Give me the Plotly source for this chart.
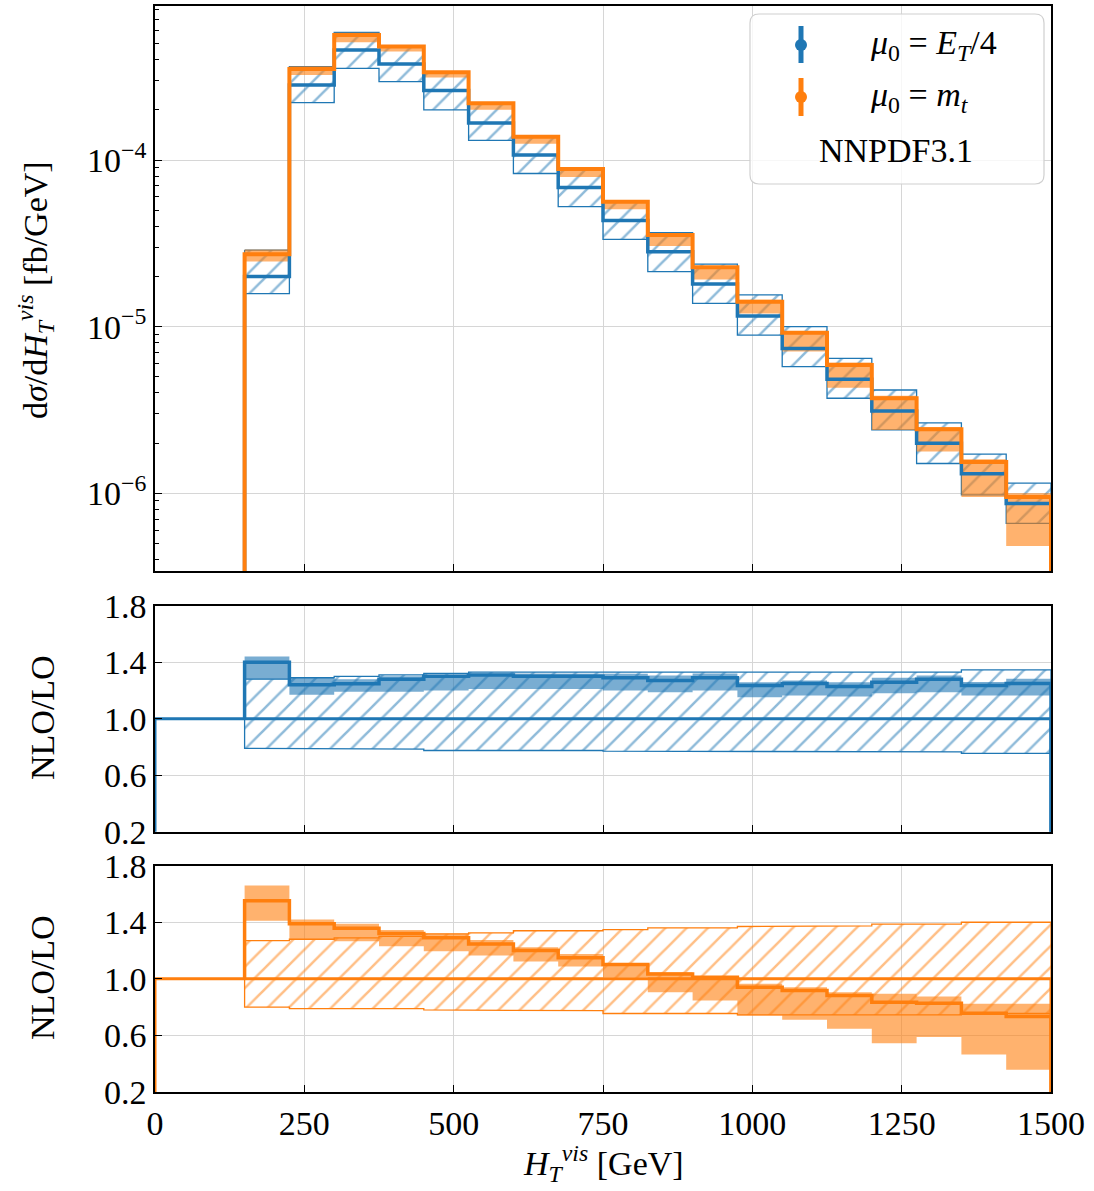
import plotly.graph_objects as go

# ---------------- data ----------------
edges = [150, 225, 300, 375, 450, 525, 600, 675, 750, 825, 900, 975,
         1050, 1125, 1200, 1275, 1350, 1425, 1500]

# top panel: mu0 = E_T/4 (blue) central + hatched band
blue_c = [2.0e-5, 2.82e-4, 4.57e-4, 3.77e-4, 2.61e-4, 1.67e-4, 1.07e-4, 6.83e-5, 4.33e-5,
          2.82e-5, 1.80e-5, 1.16e-5, 7.4e-6, 4.83e-6, 3.12e-6, 2.0e-6, 1.31e-6, 8.7e-7]
blue_hi = [2.88e-5, 3.63e-4, 5.83e-4, 4.85e-4, 3.38e-4, 2.2e-4, 1.39e-4, 8.9e-5, 5.65e-5,
           3.66e-5, 2.37e-5, 1.55e-5, 1.0e-5, 6.45e-6, 4.17e-6, 2.65e-6, 1.72e-6, 1.15e-6]
blue_lo = [1.58e-5, 2.21e-4, 3.55e-4, 2.95e-4, 2.0e-4, 1.31e-4, 8.3e-5, 5.25e-5, 3.34e-5,
           2.14e-5, 1.38e-5, 8.9e-6, 5.75e-6, 3.72e-6, 2.4e-6, 1.51e-6, 9.8e-7, 6.6e-7]

# top panel: mu0 = m_t (orange) central + filled band
orange_c = [2.72e-5, 3.51e-4, 5.62e-4, 4.79e-4, 3.36e-4, 2.19e-4, 1.38e-4, 8.83e-5, 5.62e-5,
            3.55e-5, 2.27e-5, 1.41e-5, 9.2e-6, 5.89e-6, 3.72e-6, 2.42e-6, 1.54e-6, 9.5e-7]
orange_hi = [2.9e-5, 3.65e-4, 5.8e-4, 4.9e-4, 3.42e-4, 2.22e-4, 1.40e-4, 8.95e-5, 5.7e-5,
             3.6e-5, 2.3e-5, 1.45e-5, 9.4e-6, 6.1e-6, 3.85e-6, 2.5e-6, 1.6e-6, 1.0e-6]
orange_lo = [2.46e-5, 3.24e-4, 5.08e-4, 4.47e-4, 3.13e-4, 2.0e-4, 1.25e-4, 7.9e-5, 5.06e-5,
             3.05e-5, 1.92e-5, 1.2e-5, 7.1e-6, 4.3e-6, 2.4e-6, 1.78e-6, 9.5e-7, 4.83e-7]

# middle panel: NLO/LO for mu0 = E_T/4
blue_r_c = [1.40, 1.24, 1.247, 1.28, 1.30, 1.31, 1.30, 1.30, 1.29,
            1.27, 1.29, 1.235, 1.25, 1.228, 1.258, 1.28, 1.235, 1.25]
blue_r_hi = [1.44, 1.29, 1.28, 1.30, 1.31, 1.32, 1.32, 1.32, 1.318,
             1.305, 1.32, 1.258, 1.27, 1.258, 1.29, 1.305, 1.26, 1.282]
blue_r_lo = [1.28, 1.17, 1.19, 1.19, 1.20, 1.21, 1.21, 1.21, 1.20,
             1.188, 1.20, 1.152, 1.165, 1.158, 1.18, 1.188, 1.165, 1.165]
blue_lo_hi = [1.28, 1.29, 1.30, 1.31, 1.32, 1.33, 1.33, 1.33, 1.33,
              1.33, 1.33, 1.33, 1.33, 1.33, 1.33, 1.33, 1.345, 1.345]
blue_lo_lo = [0.79, 0.785, 0.785, 0.785, 0.775, 0.775, 0.775, 0.775, 0.77,
              0.77, 0.77, 0.77, 0.77, 0.765, 0.765, 0.765, 0.755, 0.755]

# bottom panel: NLO/LO for mu0 = m_t
orange_r_c = [1.553, 1.39, 1.357, 1.32, 1.29, 1.247, 1.20, 1.15, 1.101,
              1.035, 1.011, 0.941, 0.917, 0.882, 0.835, 0.828, 0.757, 0.734]
orange_r_hi = [1.66, 1.42, 1.39, 1.345, 1.318, 1.275, 1.223, 1.176, 1.11,
               1.047, 1.02, 0.965, 0.941, 0.906, 0.894, 0.876, 0.824, 0.824]
orange_r_lo = [1.41, 1.28, 1.265, 1.23, 1.195, 1.165, 1.122, 1.087, 1.011,
               0.906, 0.847, 0.741, 0.71, 0.647, 0.545, 0.588, 0.466, 0.357]
orange_lo_hi = [1.27, 1.28, 1.29, 1.30, 1.318, 1.325, 1.34, 1.34, 1.348,
                1.36, 1.36, 1.37, 1.375, 1.375, 1.387, 1.387, 1.40, 1.40]
orange_lo_lo = [0.80, 0.79, 0.79, 0.79, 0.78, 0.78, 0.775, 0.775, 0.755,
                0.755, 0.755, 0.745, 0.745, 0.745, 0.745, 0.745, 0.755, 0.755]

x_ticks = [0, 250, 500, 750, 1000, 1250, 1500]
log_ticks = [1e-6, 1e-5, 1e-4]
log_ticktext = ["10<sup>\u22126</sup>", "10<sup>\u22125</sup>", "10<sup>\u22124</sup>"]
ratio_ticks = [0.2, 0.6, 1.0, 1.4, 1.8]
ratio_ticktext = ["0.2", "0.6", "1.0", "1.4", "1.8"]

BLUE = "#1f77b4"
ORANGE = "#ff7f0e"
BLUE_A = "rgba(31,119,180,0.6)"
ORANGE_A = "rgba(255,127,14,0.6)"
FONT = "Liberation Serif"


def band_xy(lo, hi):
    n = len(lo)
    xs, ys = [], []
    for i in range(n):
        xs += [edges[i], edges[i + 1]]
        ys += [hi[i], hi[i]]
    for i in reversed(range(n)):
        xs += [edges[i + 1], edges[i]]
        ys += [lo[i], lo[i]]
    xs.append(xs[0])
    ys.append(ys[0])
    return xs, ys


def step_xy(vals, start, end):
    xs = [edges[0]] + edges[:-1] + [edges[-1], edges[-1]]
    ys = [start] + list(vals) + [vals[-1], end]
    return xs, ys


fig = go.Figure()


def hatch(lo, hi, color, xa, ya):
    xs, ys = band_xy(lo, hi)
    fig.add_trace(go.Scatter(
        x=xs, y=ys, mode="lines", fill="toself", fillcolor="rgba(0,0,0,0)",
        fillpattern=dict(shape="/", fgcolor=color, bgcolor="rgba(0,0,0,0)",
                         size=15, solidity=0.17),
        line=dict(color=color, width=1.3), xaxis=xa, yaxis=ya,
        showlegend=False, hoverinfo="skip"))


def solid(lo, hi, color, xa, ya):
    xs, ys = band_xy(lo, hi)
    fig.add_trace(go.Scatter(
        x=xs, y=ys, mode="lines", fill="toself", fillcolor=color,
        line=dict(width=0), xaxis=xa, yaxis=ya, showlegend=False, hoverinfo="skip"))


def line(xs, ys, color, width, xa, ya, shape="linear"):
    fig.add_trace(go.Scatter(
        x=xs, y=ys, mode="lines", line=dict(color=color, width=width, shape=shape),
        xaxis=xa, yaxis=ya, showlegend=False, hoverinfo="skip"))


# ---- top panel ----
hatch(blue_lo, blue_hi, BLUE, "x", "y")
solid(orange_lo, orange_hi, ORANGE_A, "x", "y")
xs, ys = step_xy(blue_c, 1e-9, 1e-9)
line(xs, ys, BLUE, 3.5, "x", "y", "hv")
xs, ys = step_xy(orange_c, 1e-9, 1e-9)
line(xs, ys, ORANGE, 4, "x", "y", "hv")

# ---- middle panel ----
hatch(blue_lo_lo, blue_lo_hi, BLUE, "x2", "y2")
solid(blue_r_lo, blue_r_hi, BLUE_A, "x2", "y2")
line([0, 0, 1500, 1500], [0, 1.0, 1.0, 0], BLUE, 3, "x2", "y2")
xs, ys = step_xy(blue_r_c, 1.0, 0)
line(xs, ys, BLUE, 3.5, "x2", "y2", "hv")

# ---- bottom panel ----
hatch(orange_lo_lo, orange_lo_hi, ORANGE, "x3", "y3")
solid(orange_r_lo, orange_r_hi, ORANGE_A, "x3", "y3")
line([0, 0, 1500, 1500], [0, 1.0, 1.0, 0], ORANGE, 3, "x3", "y3")
xs, ys = step_xy(orange_r_c, 1.0, 0)
line(xs, ys, ORANGE, 3.5, "x3", "y3", "hv")

# ---------------- layout ----------------
W, H = 1094, 1191
ML, MR, MT, MB = 155, 43, 6, 99
PW, PH = W - ML - MR, H - MT - MB


def px(x):
    return (x - ML) / PW


def py(y):
    return (H - MB - y) / PH


tickfont = dict(family=FONT, size=34, color="black")
GRID = "#d6d6d6"

common_x = dict(range=[0, 1500], tickvals=x_ticks, ticks="inside", ticklen=7,
                tickwidth=1.2, tickcolor="black", showline=True, linecolor="black",
                linewidth=1.5, mirror=True, showgrid=True, gridcolor=GRID, gridwidth=1,
                zeroline=False, automargin=False, tickfont=tickfont)
common_yr = dict(range=[0.2, 1.8], tickvals=ratio_ticks, ticktext=ratio_ticktext,
                 ticks="inside", ticklen=7, tickwidth=1.2, tickcolor="black",
                 showline=True, linecolor="black", linewidth=1.5, mirror=True,
                 showgrid=True, gridcolor=GRID, gridwidth=1, zeroline=False,
                 automargin=False, tickfont=tickfont)

minor_vals = [m * 10.0 ** e for e in (-7, -6, -5, -4) for m in range(2, 10)]

fig.update_layout(
    width=W, height=H, margin=dict(l=ML, r=MR, t=MT, b=MB),
    paper_bgcolor="white", plot_bgcolor="white", showlegend=False,
    font=dict(family=FONT, color="black"),
    xaxis=dict(common_x, anchor="y", showticklabels=False),
    yaxis=dict(type="log", range=[-6.466, -3.076], domain=[py(571), 1.0],
               tickvals=log_ticks, ticktext=log_ticktext, anchor="x",
               ticks="inside", ticklen=7, tickwidth=1.2, tickcolor="black",
               minor=dict(tickvals=minor_vals, ticks="inside", ticklen=4,
                          tickcolor="black", showgrid=False),
               showline=True, linecolor="black", linewidth=1.5, mirror=True,
               showgrid=True, gridcolor=GRID, gridwidth=1, zeroline=False,
               automargin=False, tickfont=tickfont),
    xaxis2=dict(common_x, anchor="y2", showticklabels=False),
    yaxis2=dict(common_yr, anchor="x2", domain=[py(831.7), py(605.7)]),
    xaxis3=dict(common_x, anchor="y3", showticklabels=True),
    yaxis3=dict(common_yr, anchor="x3", domain=[0.0, py(865.7)]),
)

titlefont = dict(family=FONT, size=34, color="black")
ann = [
    dict(text="d<i>\u03c3</i>/d<i>H</i><sub><i>T</i></sub><sup><i>vis</i></sup> [fb/GeV]",
         x=px(35), y=py(290), textangle=-90),
    dict(text="NLO/LO", x=px(42), y=py(718), textangle=-90),
    dict(text="NLO/LO", x=px(42), y=py(978), textangle=-90),
    dict(text="<i>H</i><sub><i>T</i></sub><sup><i>vis</i></sup> [GeV]",
         x=px(603), y=py(1163), textangle=0),
    dict(text="<i>\u03bc</i><sub>0</sub> = <i>E</i><sub><i>T</i></sub>/4",
         x=px(868), y=py(45), textangle=0, xanchor="left"),
    dict(text="<i>\u03bc</i><sub>0</sub> = <i>m</i><sub><i>t</i></sub>",
         x=px(868), y=py(97), textangle=0, xanchor="left"),
    dict(text="NNPDF3.1", x=px(896), y=py(150), textangle=0),
]
annotations = []
for a in ann:
    d = dict(xref="paper", yref="paper", showarrow=False, font=titlefont,
             xanchor=a.get("xanchor", "center"), yanchor="middle")
    d.update(a)
    annotations.append(d)
fig.update_layout(annotations=annotations)

# legend frame (rounded box) and errorbar-style handles
x0, x1, y0, y1, r = 750, 1044, 14, 184, 9


def P(x, y):
    return f"{px(x):.5f},{py(y):.5f}"


path = (f"M {P(x0 + r, y0)} L {P(x1 - r, y0)} Q {P(x1, y0)} {P(x1, y0 + r)} "
        f"L {P(x1, y1 - r)} Q {P(x1, y1)} {P(x1 - r, y1)} "
        f"L {P(x0 + r, y1)} Q {P(x0, y1)} {P(x0, y1 - r)} "
        f"L {P(x0, y0 + r)} Q {P(x0, y0)} {P(x0 + r, y0)} Z")
shapes = [dict(type="path", path=path, xref="paper", yref="paper",
               fillcolor="rgba(255,255,255,0.8)", line=dict(color="#d0d0d0", width=1.2))]
for col, yt, yb, yc in [(BLUE, 26, 63, 45), (ORANGE, 78, 116, 97)]:
    shapes.append(dict(type="line", xref="paper", yref="paper",
                       x0=px(801), x1=px(801), y0=py(yt), y1=py(yb),
                       line=dict(color=col, width=5)))
    shapes.append(dict(type="circle", xref="paper", yref="paper",
                       x0=px(795), x1=px(807), y0=py(yc + 6), y1=py(yc - 6),
                       fillcolor=col, line=dict(color=col, width=0)))
fig.update_layout(shapes=shapes)

fig.write_html("out.html")
